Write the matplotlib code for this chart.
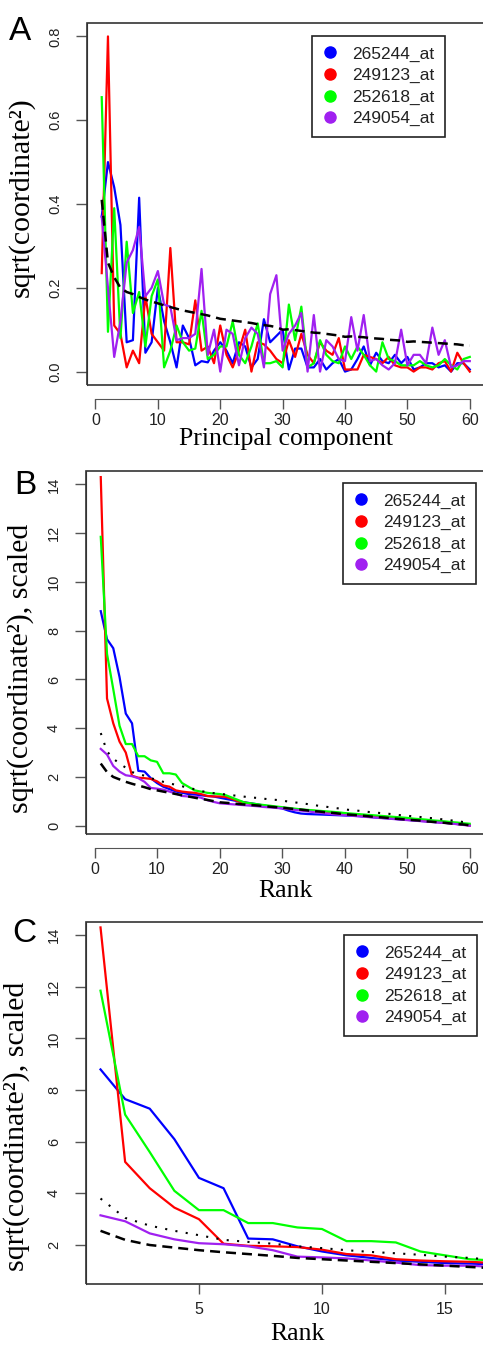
import numpy as np
import matplotlib.pyplot as plt
from matplotlib.lines import Line2D
from matplotlib.patches import Rectangle

plt.rcParams["font.family"] = ["Liberation Sans", "DejaVu Sans"]

probes = ["265244_at", "249123_at", "252618_at", "249054_at"]
colors = ["#0000FF", "#FF0000", "#00FF00", "#A020F0"]

# ── Panel A: sqrt(coordinate^2) per principal component ──────────────────────
pc = list(range(1, 61))
a_265244 = [0.37, 0.50, 0.44, 0.35, 0.07, 0.075, 0.415, 0.045, 0.07, 0.20,
            0.12, 0.07, 0.01, 0.11, 0.08, 0.015, 0.025, 0.022, 0.05, 0.07,
            0.05, 0.02, 0.07, 0.06, 0.01, 0.03, 0.125, 0.07, 0.085, 0.10,
            0.005, 0.055, 0.055, 0.01, 0.01, 0.03, 0.005, 0.02, 0.03, 0.0,
            0.005, 0.03, 0.06, 0.015, 0.045, 0.025, 0.02, 0.04, 0.02, 0.035,
            0.005, 0.01, 0.02, 0.02, 0.01, 0.015, 0.0, 0.02, 0.02, 0.005]
a_249123 = [0.235, 0.80, 0.11, 0.09, 0.01, 0.05, 0.02, 0.18, 0.09, 0.07,
            0.05, 0.295, 0.07, 0.07, 0.065, 0.17, 0.05, 0.06, 0.02, 0.11,
            0.04, 0.01, 0.05, 0.10, 0.0, 0.07, 0.065, 0.05, 0.03, 0.02,
            0.075, 0.035, 0.09, 0.04, 0.02, 0.07, 0.05, 0.04, 0.08, 0.005,
            0.005, 0.005, 0.04, 0.035, 0.03, 0.02, 0.035, 0.015, 0.01, 0.01,
            0.0, 0.01, 0.01, 0.005, 0.02, 0.025, 0.0, 0.045, 0.02, 0.0]
a_252618 = [0.655, 0.095, 0.39, 0.08, 0.31, 0.14, 0.19, 0.06, 0.18, 0.22,
            0.01, 0.05, 0.11, 0.07, 0.05, 0.055, 0.145, 0.03, 0.04, 0.06,
            0.06, 0.12, 0.04, 0.02, 0.06, 0.115, 0.02, 0.02, 0.025, 0.01,
            0.16, 0.075, 0.155, 0.01, 0.02, 0.075, 0.04, 0.025, 0.02, 0.06,
            0.03, 0.06, 0.04, 0.015, 0.0, 0.07, 0.03, 0.025, 0.015, 0.015,
            0.015, 0.025, 0.015, 0.01, 0.015, 0.03, 0.015, 0.005, 0.03, 0.035]
a_249054 = [0.37, 0.20, 0.035, 0.12, 0.26, 0.29, 0.345, 0.18, 0.20, 0.24,
            0.16, 0.155, 0.075, 0.08, 0.08, 0.09, 0.245, 0.04, 0.10, 0.0,
            0.10, 0.09, 0.015, 0.08, 0.105, 0.09, 0.01, 0.185, 0.23, 0.05,
            0.09, 0.11, 0.14, 0.0, 0.135, 0.0, 0.075, 0.06, 0.03, 0.025,
            0.13, 0.05, 0.135, 0.025, 0.03, 0.015, 0.005, 0.02, 0.10, 0.015,
            0.04, 0.04, 0.02, 0.105, 0.04, 0.075, 0.01, 0.015, 0.025, 0.025]
a_expected = [0.41, 0.26, 0.225, 0.20, 0.19, 0.185, 0.178, 0.172, 0.167, 0.163,
              0.158, 0.154, 0.150, 0.146, 0.143, 0.140, 0.137, 0.134, 0.130, 0.126,
              0.124, 0.122, 0.120, 0.118, 0.116, 0.113, 0.111, 0.109, 0.106, 0.100,
              0.101, 0.099, 0.097, 0.095, 0.093, 0.092, 0.090, 0.088, 0.086, 0.083,
              0.084, 0.083, 0.082, 0.080, 0.079, 0.078, 0.076, 0.075, 0.074, 0.071,
              0.072, 0.071, 0.070, 0.069, 0.068, 0.067, 0.066, 0.065, 0.063, 0.062]

# ── Panels B/C: sorted, scaled values by rank ────────────────────────────────
rank = list(range(1, 61))
b_265244 = [8.8, 7.65, 7.28, 6.1, 4.6, 4.2, 2.25, 2.22, 1.95, 1.75,
            1.6, 1.5, 1.4, 1.35, 1.3, 1.28, 1.25, 1.22, 1.2, 1.15,
            1.1, 1.05, 1.0, 0.96, 0.92, 0.88, 0.83, 0.79, 0.75, 0.71,
            0.62, 0.55, 0.5, 0.48, 0.47, 0.46, 0.45, 0.44, 0.43, 0.42,
            0.41, 0.4, 0.38, 0.36, 0.34, 0.32, 0.3, 0.28, 0.26, 0.24,
            0.22, 0.2, 0.18, 0.16, 0.14, 0.12, 0.1, 0.07, 0.05, 0.02]
b_249123 = [14.3, 5.22, 4.2, 3.45, 3.0, 2.05, 1.97, 1.95, 1.92, 1.82,
            1.65, 1.6, 1.45, 1.4, 1.37, 1.35, 1.3, 1.22, 1.2, 1.2,
            1.18, 1.1, 1.0, 0.95, 0.9, 0.86, 0.82, 0.79, 0.76, 0.73,
            0.7, 0.67, 0.65, 0.63, 0.61, 0.59, 0.56, 0.53, 0.5, 0.48,
            0.45, 0.43, 0.41, 0.39, 0.37, 0.35, 0.33, 0.31, 0.29, 0.26,
            0.24, 0.22, 0.19, 0.17, 0.15, 0.12, 0.1, 0.07, 0.04, 0.01]
b_252618 = [11.85, 7.05, 5.6, 4.1, 3.35, 3.35, 2.85, 2.85, 2.68, 2.62,
            2.15, 2.15, 2.1, 1.75, 1.6, 1.45, 1.4, 1.35, 1.32, 1.3,
            1.25, 1.15, 1.05, 0.95, 0.92, 0.88, 0.85, 0.82, 0.79, 0.76,
            0.73, 0.7, 0.67, 0.65, 0.63, 0.61, 0.59, 0.57, 0.55, 0.52,
            0.5, 0.48, 0.46, 0.44, 0.42, 0.4, 0.38, 0.36, 0.34, 0.32,
            0.29, 0.27, 0.25, 0.22, 0.2, 0.18, 0.15, 0.13, 0.1, 0.08]
b_249054 = [3.15, 2.92, 2.45, 2.22, 2.07, 2.03, 1.95, 1.8, 1.55, 1.52,
            1.48, 1.4, 1.32, 1.22, 1.2, 1.2, 1.15, 1.05, 0.98, 0.92,
            0.9, 0.88, 0.86, 0.84, 0.82, 0.8, 0.77, 0.75, 0.73, 0.71,
            0.68, 0.65, 0.62, 0.59, 0.56, 0.53, 0.5, 0.47, 0.45, 0.43,
            0.41, 0.39, 0.37, 0.35, 0.33, 0.31, 0.29, 0.27, 0.25, 0.23,
            0.21, 0.19, 0.17, 0.15, 0.13, 0.11, 0.09, 0.06, 0.03, 0.0]
b_dotted = [3.8, 3.05, 2.75, 2.55, 2.38, 2.2, 2.12, 2.05, 1.95, 1.88,
            1.8, 1.73, 1.68, 1.62, 1.55, 1.5, 1.42, 1.38, 1.34, 1.31,
            1.28, 1.25, 1.22, 1.19, 1.16, 1.14, 1.11, 1.08, 1.06, 1.03,
            0.99, 0.96, 0.92, 0.89, 0.85, 0.81, 0.78, 0.74, 0.71, 0.67,
            0.64, 0.62, 0.59, 0.56, 0.54, 0.51, 0.49, 0.46, 0.43, 0.41,
            0.38, 0.36, 0.33, 0.31, 0.28, 0.25, 0.22, 0.19, 0.15, 0.1]
b_dashed = [2.55, 2.2, 2.0, 1.9, 1.8, 1.72, 1.65, 1.58, 1.5, 1.45,
            1.4, 1.35, 1.3, 1.25, 1.2, 1.15, 1.1, 1.06, 1.01, 0.96,
            0.94, 0.92, 0.89, 0.87, 0.85, 0.83, 0.81, 0.78, 0.76, 0.74,
            0.71, 0.68, 0.66, 0.63, 0.6, 0.58, 0.55, 0.53, 0.5, 0.47,
            0.45, 0.43, 0.41, 0.38, 0.36, 0.34, 0.32, 0.29, 0.27, 0.25,
            0.23, 0.21, 0.18, 0.16, 0.14, 0.12, 0.09, 0.07, 0.05, 0.02]

W, H = 483, 1347
fig = plt.figure(figsize=(W / 100, H / 100), dpi=100)


def px_axes(left, top, right, bottom):
    return fig.add_axes([left / W, 1 - bottom / H, (right - left) / W, (bottom - top) / H])


def style(ax, xticks, yticks, yticklabels):
    for s in ax.spines.values():
        s.set_visible(False)
    ax.add_patch(Rectangle((0, 0), 1, 1, transform=ax.transAxes, fill=False,
                           lw=1.2, ec="#333333", clip_on=False, zorder=5))
    ax.spines["bottom"].set_visible(True)
    ax.spines["bottom"].set_position(("outward", 10))
    ax.spines["bottom"].set_bounds(xticks[0], xticks[-1])
    ax.spines["bottom"].set_color("#555555")
    ax.spines["left"].set_visible(True)
    ax.spines["left"].set_color("#333333")
    ax.set_xticks(xticks)
    ax.set_yticks(yticks)
    ax.set_yticklabels(yticklabels, rotation=90, va="center")
    ax.tick_params(axis="x", length=7, width=1.0, color="#555555", labelsize=11.5,
                   labelcolor="#222222", pad=3)
    ax.tick_params(axis="y", length=8, width=1.0, color="#555555", labelsize=10.5,
                   labelcolor="#222222", pad=10)


def add_legend(ax, right, top):
    handles = [Line2D([], [], marker="o", linestyle="none", color=c, markersize=8)
               for c in colors]
    leg = ax.legend(handles, probes, loc="upper right",
                    bbox_to_anchor=(right / W, 1 - top / H), bbox_transform=fig.transFigure,
                    frameon=True, fancybox=False, edgecolor="#222222", framealpha=1,
                    borderpad=0.6, handlelength=0.8, handletextpad=0.9,
                    labelspacing=0.36, fontsize=12.5, borderaxespad=0)
    leg.get_frame().set_linewidth(1.2)
    for t in leg.get_texts():
        t.set_color("#222222")


def labels(ax, xlabel, ylabel, xbase, ycenter):
    ax.set_xlabel(xlabel, fontsize=18.5, family=["Liberation Serif", "DejaVu Serif"])
    ax.xaxis.set_label_coords(0.5, xbase)
    ax.xaxis.label.set_va("baseline")
    ax.set_ylabel(ylabel, fontsize=21.5, family=["Liberation Serif", "DejaVu Serif"])
    ax.yaxis.set_label_coords(-0.165, ycenter)
    ax.yaxis.label.set_va("center")


lw = 1.6
dash = (0, (4, 2.4))

# ── Panel A ──────────────────────────────────────────────────────────────────
ax = px_axes(87, 23, 484.5, 385)
for vals, c in zip([a_265244, a_249123, a_252618, a_249054], colors):
    ax.plot(pc, vals, color=c, lw=lw)
ax.plot(pc, a_expected, color="black", lw=1.8, linestyle=dash)
ax.set_xlim(-1.36, 62.36)
ax.set_ylim(-0.032, 0.832)
style(ax, [0, 10, 20, 30, 40, 50, 60], [0, 0.2, 0.4, 0.6, 0.8],
      ["0.0", "0.2", "0.4", "0.6", "0.8"])
add_legend(ax, 445, 36)
labels(ax, "Principal component", "sqrt(coordinate²)", -0.166, 0.519)
fig.text(9 / W, 1 - 40 / H, "A", fontsize=24, va="baseline")

# ── Panel B ──────────────────────────────────────────────────────────────────
ax = px_axes(86, 471, 484.5, 834)
for vals, c in zip([b_265244, b_249123, b_252618, b_249054], colors):
    ax.plot(rank, vals, color=c, lw=lw)
ax.plot(rank, b_dotted, color="black", lw=1.5, linestyle=(0, (1, 4)))
ax.plot(rank, b_dashed, color="black", lw=1.8, linestyle=dash)
ax.set_xlim(-1.36, 62.36)
ax.set_ylim(-0.34, 14.55)
style(ax, [0, 10, 20, 30, 40, 50, 60], [0, 2, 4, 6, 8, 10, 12, 14],
      ["0", "2", "4", "6", "8", "10", "12", "14"])
add_legend(ax, 476, 483)
labels(ax, "Rank", "sqrt(coordinate²), scaled", -0.174, 0.457)
fig.text(14 / W, 1 - 494 / H, "B", fontsize=24, va="baseline")

# ── Panel C: zoom on the first ranks ─────────────────────────────────────────
ax = px_axes(86, 922, 509, 1284)
for vals, c in zip([b_265244, b_249123, b_252618, b_249054], colors):
    ax.plot(rank, vals, color=c, lw=lw)
ax.plot(rank, b_dotted, color="black", lw=1.5, linestyle=(0, (1, 4)))
ax.plot(rank, b_dashed, color="black", lw=1.8, linestyle=dash)
ax.set_xlim(0.41, 17.6)
ax.set_ylim(0.49, 14.51)
style(ax, [5, 10, 15], [2, 4, 6, 8, 10, 12, 14],
      ["2", "4", "6", "8", "10", "12", "14"])
ax.spines["bottom"].set_position(("outward", 0))
ax.spines["bottom"].set_visible(False)
ax.tick_params(axis="x", pad=6)
add_legend(ax, 477, 935)
labels(ax, "Rank", "sqrt(coordinate²), scaled", -0.154, 0.436)
fig.text(12 / W, 1 - 942 / H, "C", fontsize=24, va="baseline")

fig.savefig("out.png", dpi=100)
